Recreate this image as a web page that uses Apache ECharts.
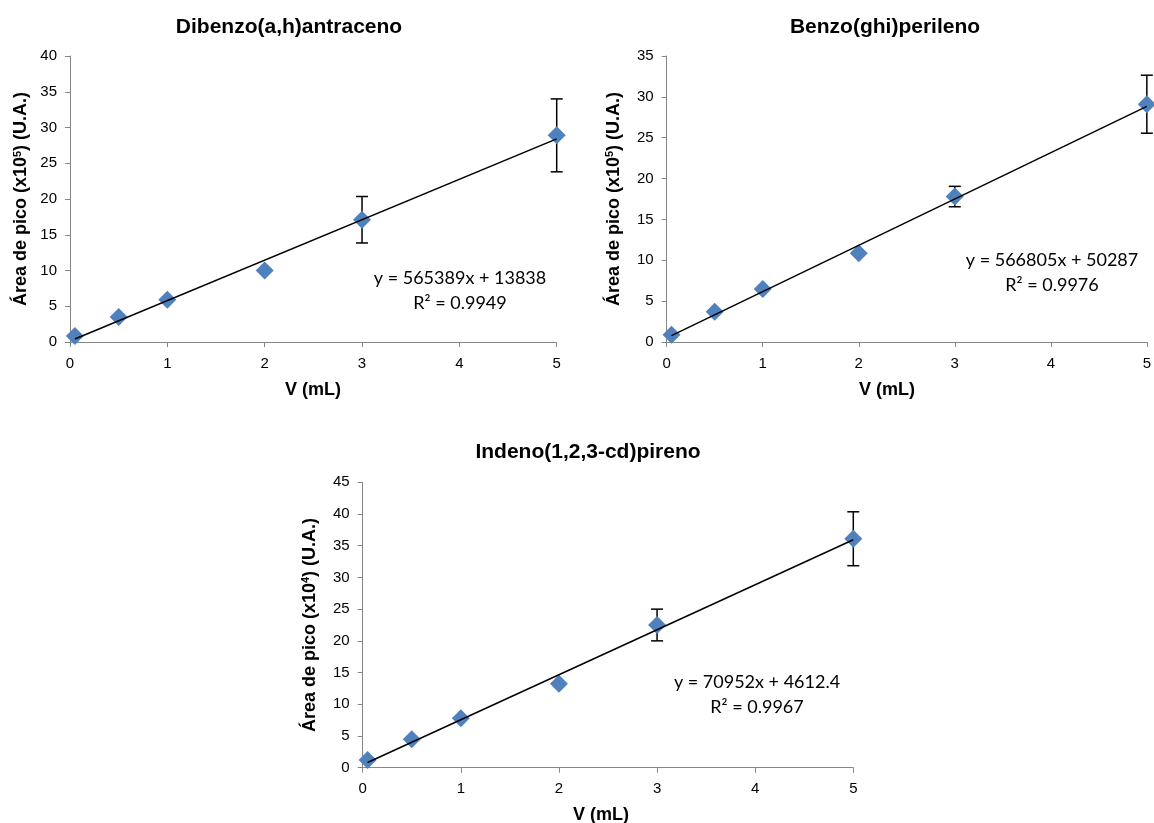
<!DOCTYPE html>
<html>
<head>
<meta charset="utf-8">
<script src="https://cdn.jsdelivr.net/npm/echarts@6/dist/echarts.min.js"></script>
<style>
  html, body { margin: 0; padding: 0; background: #fff; }
  #main { width: 1154px; height: 823px; }
</style>
</head>
<body>
<div id="main"></div>
<script>
// volumes (mL) and peak areas
var volumes = [0.05, 0.5, 1, 2, 3, 5];
var xTicks = [0, 1, 2, 3, 4, 5];

var dibenzoArea = [0.85, 3.5, 5.9, 10.0, 17.1, 28.9];
var dibenzoErr = [0, 0, 0, 0, 3.25, 5.1];
var benzoArea = [0.9, 3.7, 6.5, 10.85, 17.8, 29.1];
var benzoErr = [0, 0, 0, 0, 1.25, 3.55];
var indenoArea = [1.2, 4.5, 7.8, 13.25, 22.5, 36.1];
var indenoErr = [0, 0, 0, 0, 2.5, 4.25];

// trend lines (slope, intercept) in the plotted units
var dibenzoFit = [5.65389, 0.13838];
var benzoFit = [5.66805, 0.50287];
var indenoFit = [7.0952, 0.46124];

var titles = ['Dibenzo(a,h)antraceno', 'Benzo(ghi)perileno', 'Indeno(1,2,3-cd)pireno'];
var equations = [
  ['y = 565389x + 13838', 'R² = 0.9949'],
  ['y = 566805x + 50287', 'R² = 0.9976'],
  ['y = 70952x + 4612.4', 'R² = 0.9967']
];
var yMax = [40, 35, 45];

var chart = echarts.init(document.getElementById('main'));

var axisGray = '#868686';
var blue = '#4F81BD';
var labelFont = 'Liberation Sans, Arial, sans-serif';

var grids = [
  { left: 70, top: 56, width: 486.7, height: 286 },
  { left: 666.7, top: 56, width: 483.3, height: 286 },
  { left: 362.7, top: 482.3, width: 490.6, height: 285.4 }
];
var yNameGap = [40, 44, 44];
var yExp = ['5', '5', '4'];

function pairs(xs, ys) {
  return xs.map(function (x, i) { return [x, ys[i]]; });
}
function errData(xs, ys, es) {
  var out = [];
  xs.forEach(function (x, i) { if (es[i] > 0) out.push([x, ys[i], es[i]]); });
  return out;
}
function fitLine(xs, fit) {
  var x0 = xs[0], x1 = xs[xs.length - 1];
  return [[x0, fit[0] * x0 + fit[1]], [x1, fit[0] * x1 + fit[1]]];
}

function renderErr(params, api) {
  var x = api.value(0), y = api.value(1), e = api.value(2);
  var top = api.coord([x, y + e]);
  var bot = api.coord([x, y - e]);
  var st = { stroke: '#000', lineWidth: 1.5 };
  return {
    type: 'group',
    children: [
      { type: 'line', shape: { x1: top[0], y1: top[1], x2: bot[0], y2: bot[1] }, style: st },
      { type: 'line', shape: { x1: top[0] - 6, y1: top[1], x2: top[0] + 6, y2: top[1] }, style: st },
      { type: 'line', shape: { x1: bot[0] - 6, y1: bot[1], x2: bot[0] + 6, y2: bot[1] }, style: st }
    ]
  };
}

var areas = [dibenzoArea, benzoArea, indenoArea];
var errs = [dibenzoErr, benzoErr, indenoErr];
var fits = [dibenzoFit, benzoFit, indenoFit];

var xAxes = [], yAxes = [], series = [];
grids.forEach(function (g, i) {
  xAxes.push({
    type: 'value', gridIndex: i, min: xTicks[0], max: xTicks[xTicks.length - 1], interval: 1,
    splitLine: { show: false },
    axisLine: { lineStyle: { color: axisGray, width: 1 } },
    axisTick: { show: true, length: 5, lineStyle: { color: axisGray } },
    axisLabel: { color: '#000', fontSize: 15, fontFamily: labelFont, margin: 14 }
  });
  yAxes.push({
    type: 'value', gridIndex: i, min: 0, max: yMax[i], interval: 5,
    splitLine: { show: false },
    axisLine: { show: true, lineStyle: { color: axisGray, width: 1 } },
    axisTick: { show: true, length: 5, lineStyle: { color: axisGray } },
    axisLabel: { color: '#000', fontSize: 15, fontFamily: labelFont, margin: 13 },
    name: 'Área de pico (x10{s|' + yExp[i] + '}) (U.A.)',
    nameLocation: 'middle',
    nameGap: yNameGap[i],
    nameTextStyle: {
      color: '#000', fontSize: 18, fontWeight: 'bold', fontFamily: labelFont,
      rich: { s: { fontSize: 11, fontWeight: 'bold', fontFamily: labelFont, verticalAlign: 'top', color: '#000' } }
    }
  });
  series.push({
    type: 'custom', xAxisIndex: i, yAxisIndex: i, z: 1,
    renderItem: renderErr,
    data: errData(volumes, areas[i], errs[i])
  });
  series.push({
    type: 'scatter', xAxisIndex: i, yAxisIndex: i, z: 2,
    symbol: 'diamond', symbolSize: 18,
    itemStyle: { color: blue, opacity: 1 },
    data: pairs(volumes, areas[i])
  });
  series.push({
    type: 'line', xAxisIndex: i, yAxisIndex: i, z: 3,
    symbol: 'none', lineStyle: { color: '#000', width: 1.5 },
    data: fitLine(volumes, fits[i])
  });
});

var titleCenters = [[289, 17], [885, 17], [588, 442]];
var nameCenters = [[313, 390], [887, 390], [601, 815]];
var eqCenters = [[460, 278, 303], [1052, 260, 285], [757, 682, 707]];

var graphics = [];
function txt(text, x, y, font) {
  return {
    type: 'text', silent: true,
    style: {
      text: text, x: x, y: y, font: font, fill: '#000',
      textAlign: 'center', align: 'center',
      textVerticalAlign: 'middle', verticalAlign: 'middle'
    }
  };
}
grids.forEach(function (g, i) {
  graphics.push(txt('V (mL)', nameCenters[i][0], nameCenters[i][1], 'bold 18px ' + labelFont));
  graphics.push(txt(equations[i][0], eqCenters[i][0], eqCenters[i][1], '18px Lato, sans-serif'));
  graphics.push(txt(equations[i][1], eqCenters[i][0], eqCenters[i][2], '18px Lato, sans-serif'));
});

var option = {
  backgroundColor: '#fff',
  animation: false,
  title: titles.map(function (t, i) {
    return {
      text: t, left: titleCenters[i][0], top: titleCenters[i][1], textAlign: 'center',
      padding: 0,
      textStyle: { color: '#000', fontSize: 21, fontWeight: 'bold', fontFamily: labelFont }
    };
  }),
  grid: grids,
  xAxis: xAxes,
  yAxis: yAxes,
  series: series,
  graphic: graphics
};

chart.setOption(option);
window.addEventListener('resize', chart.resize);
</script>
</body>
</html>
